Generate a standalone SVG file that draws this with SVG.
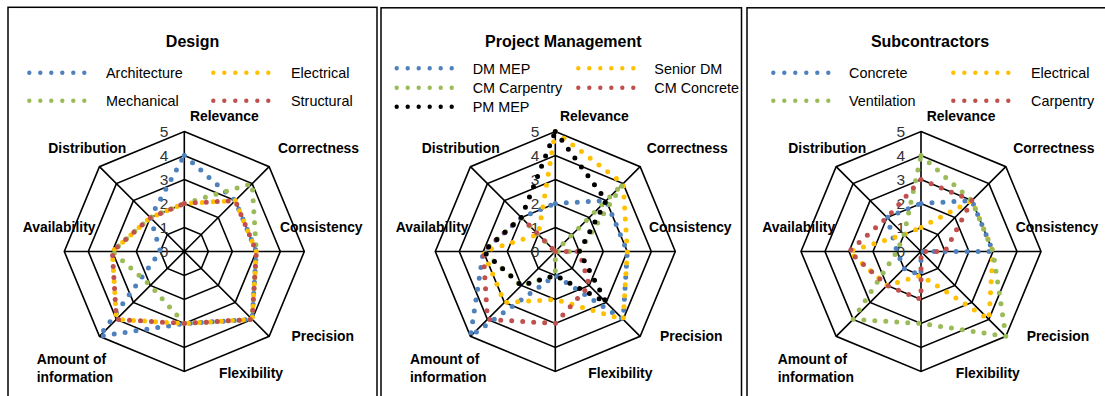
<svg xmlns="http://www.w3.org/2000/svg" width="1105" height="396" viewBox="0 0 1105 396">
<defs>
<style>
.frame{fill:#fff;stroke:#000;stroke-width:1.5}
.grid{fill:none;stroke:#000;stroke-width:1.6;stroke-linejoin:miter}
.s{fill:none;stroke-width:5;stroke-linecap:round;stroke-dasharray:0 11}
.lg{fill:none;stroke-width:4.4;stroke-linecap:round;stroke-dasharray:0 11}
.blue{stroke:#4F81BD}.yel{stroke:#FFC000}.grn{stroke:#9BBB59}.red{stroke:#C0504D}.blk{stroke:#000}
.title{font-family:"Liberation Sans",Arial,sans-serif;font-weight:bold;font-size:16px;fill:#000}
.leg{font-family:"Liberation Sans",Arial,sans-serif;font-size:14.4px;fill:#000}
.ax{font-family:"Liberation Sans",Arial,sans-serif;font-weight:bold;font-size:13.9px;fill:#000}
.num{font-family:"Liberation Sans",Arial,sans-serif;font-size:15.5px;fill:#333;text-anchor:end}
</style>
<g id="grid">
<polygon class="grid" points="0,-24 16.97,-16.97 24,0 16.97,16.97 0,24 -16.97,16.97 -24,0 -16.97,-16.97"/>
<polygon class="grid" points="0,-48 33.94,-33.94 48,0 33.94,33.94 0,48 -33.94,33.94 -48,0 -33.94,-33.94"/>
<polygon class="grid" points="0,-72 50.91,-50.91 72,0 50.91,50.91 0,72 -50.91,50.91 -72,0 -50.91,-50.91"/>
<polygon class="grid" points="0,-96 67.88,-67.88 96,0 67.88,67.88 0,96 -67.88,67.88 -96,0 -67.88,-67.88"/>
<polygon class="grid" points="0,-120 84.85,-84.85 120,0 84.85,84.85 0,120 -84.85,84.85 -120,0 -84.85,-84.85"/>
<path class="grid" d="M0,0V-120M0,0L84.85,-84.85M0,0H120M0,0L84.85,84.85M0,0V120M0,0L-84.85,84.85M0,0H-120M0,0L-84.85,-84.85"/>
</g>
<g id="nums">
<text class="num" x="-16" y="5.5">0</text>
<text class="num" x="-16" y="-18.5">1</text>
<text class="num" x="-16" y="-42.5">2</text>
<text class="num" x="-16" y="-66.5">3</text>
<text class="num" x="-16" y="-90.5">4</text>
<text class="num" x="-16" y="-114.5">5</text>
</g>
</defs>
<rect width="1105" height="396" fill="#fff"/>

<!-- Panel 1: Design -->
<g id="panel-design">
<rect class="frame" x="8" y="7.3" width="369" height="400"/>
<text class="title" x="192.5" y="46.5" text-anchor="middle">Design</text>
<g id="legend-design">
<line class="lg blue" x1="29.3" y1="72.7" x2="95.3" y2="72.7"/><text class="leg" x="106" y="78">Architecture</text>
<line class="lg yel" x1="213.3" y1="72.7" x2="279.3" y2="72.7"/><text class="leg" x="291" y="78">Electrical</text>
<line class="lg grn" x1="29.3" y1="100.7" x2="95.3" y2="100.7"/><text class="leg" x="106" y="106">Mechanical</text>
<line class="lg red" x1="213.3" y1="100.7" x2="279.3" y2="100.7"/><text class="leg" x="291" y="106">Structural</text>
</g>
<g id="chart-design" transform="translate(184.3,251.5)">
<use href="#grid"/>
<use href="#nums"/>
<polygon id="d-architecture" class="s blue" points="0,-96 50.91,-50.91 72,0 67.88,67.88 0,72 -84.85,84.85 -24,0 -33.94,-33.94"/>
<polygon id="d-electrical" class="s yel" style="stroke-dashoffset:4" points="0,-48 50.91,-50.91 72,0 67.88,67.88 0,72 -67.88,67.88 -72,0 -33.94,-33.94"/>
<polygon id="d-mechanical" class="s grn" points="0,-48 67.88,-67.88 72,0 67.88,67.88 0,72 -33.94,33.94 -72,0 -33.94,-33.94"/>
<polygon id="d-structural" class="s red" points="0,-48 50.91,-50.91 72,0 67.88,67.88 0,72 -67.88,67.88 -72,0 -33.94,-33.94"/>
</g>
<g id="labels-design">
<text class="ax" x="190" y="121">Relevance</text>
<text class="ax" x="278" y="153">Correctness</text>
<text class="ax" x="280" y="232">Consistency</text>
<text class="ax" x="291.5" y="341">Precision</text>
<text class="ax" x="219" y="377.5">Flexibility</text>
<text class="ax" x="36.7" y="364">Amount of</text>
<text class="ax" x="36.7" y="381.5">information</text>
<text class="ax" x="22.7" y="232">Availability</text>
<text class="ax" x="48.3" y="153">Distribution</text>
</g>
</g>

<!-- Panel 2: Project Management -->
<g id="panel-pm">
<rect class="frame" x="381" y="7.8" width="360.5" height="400"/>
<text class="title" x="563.3" y="46.5" text-anchor="middle">Project Management</text>
<g id="legend-pm">
<line class="lg blue" x1="396.7" y1="68.3" x2="462.7" y2="68.3"/><text class="leg" x="472.7" y="74">DM MEP</text>
<line class="lg yel" x1="578.3" y1="68.3" x2="644.3" y2="68.3"/><text class="leg" x="654.3" y="74">Senior DM</text>
<line class="lg grn" x1="396.7" y1="87.7" x2="462.7" y2="87.7"/><text class="leg" x="472.7" y="93">CM Carpentry</text>
<line class="lg red" x1="578.3" y1="87.7" x2="644.3" y2="87.7"/><text class="leg" x="654.3" y="93">CM Concrete</text>
<line class="lg blk" x1="396.7" y1="106.7" x2="462.7" y2="106.7"/><text class="leg" x="472.7" y="112">PM MEP</text>
</g>
<g id="chart-pm" transform="translate(555.3,251.5)">
<use href="#grid"/>
<use href="#nums"/>
<polygon id="p-dmmep" class="s blue" points="0,-48 50.91,-50.91 72,0 67.88,67.88 0,24 -84.85,84.85 -72,0 -33.94,-33.94"/>
<polygon id="p-seniordm" class="s yel" points="0,-120 67.88,-67.88 72,0 67.88,67.88 0,48 -50.91,50.91 -72,0 -16.97,-16.97"/>
<polygon id="p-cmcarpentry" class="s grn" points="0,0 67.88,-67.88 24,0 0,0 0,24 -33.94,33.94 -72,0 -33.94,-33.94"/>
<polygon id="p-cmconcrete" class="s red" points="0,0 0,0 24,0 33.94,33.94 0,72 -67.88,67.88 -72,0 -33.94,-33.94"/>
<polygon id="p-pmmep" class="s blk" points="0,-120 50.91,-50.91 24,0 50.91,50.91 0,24 -33.94,33.94 -72,0 -33.94,-33.94"/>
</g>
<g id="labels-pm">
<text class="ax" x="560" y="121">Relevance</text>
<text class="ax" x="646.7" y="153">Correctness</text>
<text class="ax" x="649" y="232">Consistency</text>
<text class="ax" x="660" y="341">Precision</text>
<text class="ax" x="588.3" y="377.5">Flexibility</text>
<text class="ax" x="410" y="364">Amount of</text>
<text class="ax" x="410" y="381.5">information</text>
<text class="ax" x="395.7" y="232">Availability</text>
<text class="ax" x="421.7" y="153">Distribution</text>
</g>
</g>

<!-- Panel 3: Subcontractors -->
<g id="panel-sub">
<rect class="frame" x="747" y="7.8" width="370" height="400"/>
<text class="title" x="930" y="46.5" text-anchor="middle">Subcontractors</text>
<g id="legend-sub">
<line class="lg blue" x1="773.3" y1="72.7" x2="839.3" y2="72.7"/><text class="leg" x="849" y="78">Concrete</text>
<line class="lg yel" x1="953.3" y1="72.7" x2="1019.3" y2="72.7"/><text class="leg" x="1031" y="78">Electrical</text>
<line class="lg grn" x1="773.3" y1="100.7" x2="839.3" y2="100.7"/><text class="leg" x="849" y="106">Ventilation</text>
<line class="lg red" x1="953.3" y1="100.7" x2="1019.3" y2="100.7"/><text class="leg" x="1031" y="106">Carpentry</text>
</g>
<g id="chart-sub" transform="translate(921,251.5)">
<use href="#grid"/>
<use href="#nums"/>
<polygon id="s-concrete" class="s blue" points="0,-48 50.91,-50.91 72,0 0,0 0,24 -16.97,16.97 -24,0 -33.94,-33.94"/>
<polygon id="s-electrical" class="s yel" points="0,-24 50.91,-50.91 72,0 67.88,67.88 0,24 -33.94,33.94 -72,0 -16.97,-16.97"/>
<polygon id="s-ventilation" class="s grn" points="0,-96 50.91,-50.91 72,0 84.85,84.85 0,72 -67.88,67.88 -24,0 -16.97,-16.97"/>
<polygon id="s-carpentry" class="s red" points="0,-72 50.91,-50.91 24,0 0,0 0,48 -33.94,33.94 -72,0 -33.94,-33.94"/>
</g>
<g id="labels-sub">
<text class="ax" x="926.7" y="121">Relevance</text>
<text class="ax" x="1013.3" y="153">Correctness</text>
<text class="ax" x="1015.7" y="232">Consistency</text>
<text class="ax" x="1026.7" y="341">Precision</text>
<text class="ax" x="955.7" y="377.5">Flexibility</text>
<text class="ax" x="777.7" y="364">Amount of</text>
<text class="ax" x="777.7" y="381.5">information</text>
<text class="ax" x="762.3" y="232">Availability</text>
<text class="ax" x="788.3" y="153">Distribution</text>
</g>
</g>
</svg>
